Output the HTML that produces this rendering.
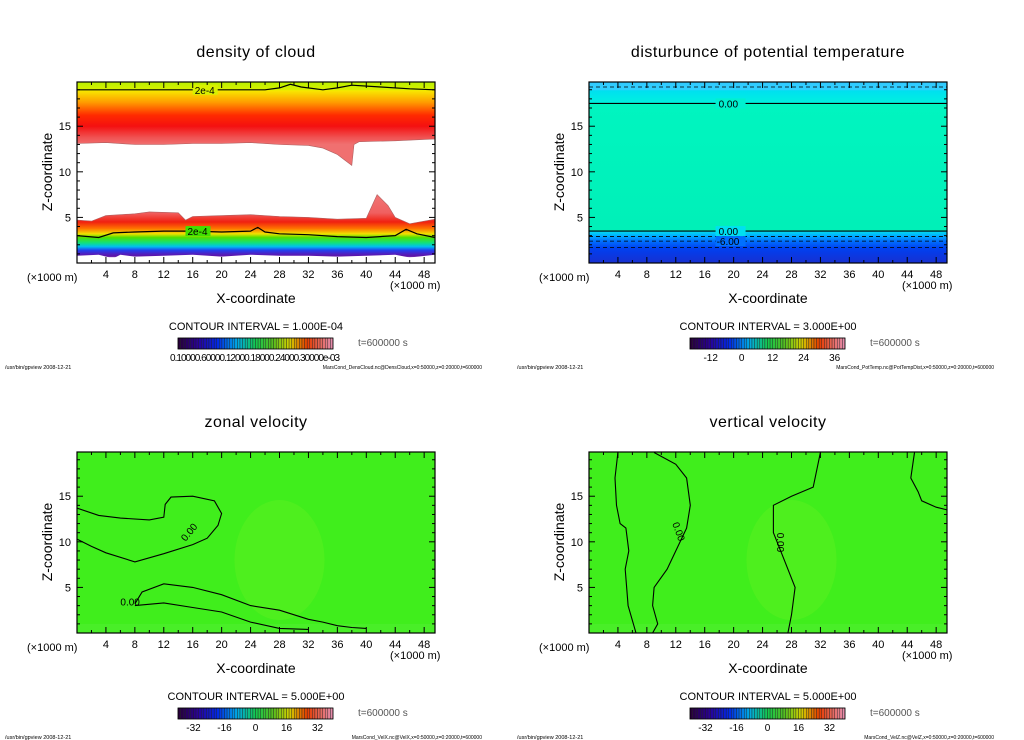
<!DOCTYPE html>
<html><head><meta charset="utf-8"><style>
html,body{margin:0;padding:0;background:#fff;}
svg{display:block;font-family:"Liberation Sans",sans-serif;}
</style></head><body>
<svg id="s" width="1024" height="740" viewBox="0 0 1024 740"></svg>
<script>
const xTicks=[4,8,12,16,20,24,28,32,36,40,44,48];
const zTicks=[5,10,15];
const titles=["density of cloud","disturbunce of potential temperature","zonal velocity","vertical velocity"];
const intervals=["1.000E-04","3.000E+00","5.000E+00","5.000E+00"];
const cbarLabels=[["0.10000.60000.12000.18000.24000.30000e-03"],["-12","0","12","24","36"],["-32","-16","0","16","32"],["-32","-16","0","16","32"]];
const cbarLabelVals=[[0],[-12,0,12,24,36],[-32,-16,0,16,32],[-32,-16,0,16,32]];
const cbarRanges=[[0,1],[-20,40],[-40,40],[-40,40]];
const footR=["MarsCond_DensCloud.nc@DensCloud,x=0:50000,z=0:20000,t=600000","MarsCond_PotTemp.nc@PotTempDist,x=0:50000,z=0:20000,t=600000","MarsCond_VelX.nc@VelX,x=0:50000,z=0:20000,t=600000","MarsCond_VelZ.nc@VelZ,x=0:50000,z=0:20000,t=600000"];
// cloud density boundaries (x, z)
const cloudUpperX=[0,4,8,12,16,20,24,28,32,34,36,37,38,38.3,39,44,49.5];
const cloudUpperZ=[13.1,13.2,13.0,13.0,13.1,13.1,13.2,13.0,12.9,12.6,11.9,11.3,10.7,13.0,13.3,13.4,13.6];
const cloudLowerX=[0,2,4,8,10,14,15,16,20,24,28,32,36,40,41.5,43,44,46,49.5];
const cloudLowerZ=[4.7,4.6,5.2,5.4,5.6,5.5,4.7,5.1,5.2,5.3,5.1,5.0,4.8,4.9,7.5,6.3,5.0,4.3,4.8];
const cloud2e4TopX=[0,10,20,26,28,29.5,31,34,36,38,42,46,49.5];
const cloud2e4TopZ=[19.0,19.0,19.0,19.0,19.2,19.6,19.3,19.0,19.2,19.5,19.3,19.1,19.0];
const cloud2e4LowX=[0,3,5,8,12,16,20,24,25,26,28,32,36,40,44,45.5,47,49.5];
const cloud2e4LowZ=[3.0,2.8,3.3,3.4,3.5,3.5,3.4,3.5,3.9,3.4,3.2,3.1,2.9,2.8,3.0,3.7,3.2,2.8];
const cloudBotX=[0,3,5,6,8,12,16,20,24,28,32,36,40,44,46,49.5];
const cloudBotZ=[0.8,0.9,0.5,0.9,0.7,0.8,0.9,0.7,0.9,0.8,0.8,0.7,0.8,0.9,0.6,0.9];
// zonal velocity contours
const uAX=[0,3,6,10,12,12.2,13,16,19,20,19.5,18,16,12,8,4,2,0];
const uAZ=[13.7,12.9,12.6,12.4,12.7,14.1,14.9,15.0,14.5,13.1,11.8,10.4,9.7,8.7,7.8,8.8,9.5,10.3];
const uBX=[8,9,12,16,20,24,28,32,34,36,38,40];
const uBZ=[3.2,4.5,5.4,5.0,4.2,3.0,2.5,1.5,1.2,0.8,0.6,0.5];
const uCX=[8,12,16,20,24,28,32];
const uCZ=[3.0,3.3,2.8,2.3,1.2,0.5,0.4];
// vertical velocity contours
const wAX=[4,3.6,3.8,4.3,5.1,5.5,5,5.4,6.5];
const wAZ=[19.8,17.0,14.0,12.0,11.5,9.0,7.0,3.0,0];
const wBX=[9,12,13.5,14,13.5,12,10.8,9,8.8,9.5,8.8];
const wBZ=[19.8,18.5,17.0,14.0,11.5,9.0,7.0,5.0,3.0,1.0,0];
const wCX=[32,31,28,25.5,25.5,27,28.5,28,27.5];
const wCZ=[19.8,16.0,15.0,14.0,11.0,8.0,5.0,2.0,0];
const wDX=[45,44.5,45.5,46,48,49.5];
const wDZ=[19.8,17.0,15.5,14.5,13.8,13.5];

const svg=document.getElementById('s');
const NS="http://www.w3.org/2000/svg";
function mk(tag,attrs,parent){const e=document.createElementNS(NS,tag);for(const k in attrs)e.setAttribute(k,attrs[k]);(parent||svg).appendChild(e);return e;}
function txt(str,x,y,size,anchor,parent,extra){const t=mk('text',Object.assign({x:x,y:y,'font-size':size,'text-anchor':anchor||'start',fill:'#000'},extra||{}),parent);t.textContent=str;return t;}
function rainbow(t){const stops=[[0,[40,0,60]],[0.12,[40,0,150]],[0.25,[0,40,230]],[0.38,[0,170,230]],[0.5,[20,200,80]],[0.62,[90,190,30]],[0.72,[210,210,0]],[0.84,[230,60,0]],[1,[230,140,170]]];for(let i=1;i<stops.length;i++){if(t<=stops[i][0]){const a=stops[i-1],b=stops[i];const f=(t-a[0])/(b[0]-a[0]);return 'rgb('+a[1].map((v,j)=>Math.round(v+(b[1][j]-v)*f)).join(',')+')';}}return 'rgb(230,140,170)';}

function panel(i){
  const ox=(i%2)*512, oy=Math.floor(i/2)*370;
  const g=mk('g',{transform:'translate('+ox+','+oy+')'});
  
  
  const L=77,R=435,T=82,B=263;
  const xs=v=>L+(v/49.5)*(R-L), zs=v=>B-(v/19.85)*(B-T);
  const path=(X,Z)=>X.map((x,k)=>(k?'L':'M')+xs(x).toFixed(1)+','+zs(Z[k]).toFixed(1)).join('');
  const defs=mk('defs',{},g);
  if(i===0){
    const lg=mk('linearGradient',{id:'g0',x1:0,y1:T,x2:0,y2:B,gradientUnits:'userSpaceOnUse'},defs);
    const st=[[19.85,'#b8f000'],[19.0,'#d8f000'],[18.9,'#f8e800'],[17.6,'#ff9a00'],[16.2,'#ff2a00'],[15.0,'#f41010'],[13.8,'#f05050'],[13.0,'#f07070'],[11,'#f07070'],[7,'#f07070'],[5.5,'#f06060'],[4.5,'#f02010'],[3.8,'#ff7000'],[3.2,'#f0e000'],[2.8,'#50e000'],[2.2,'#10e080'],[1.8,'#00c0f0'],[1.4,'#2040f0'],[1.0,'#5020c0'],[0.7,'#6010a0'],[0.6,'#fff'],[0,'#fff']];
    st.forEach(s=>mk('stop',{offset:((19.85-s[0])/19.85).toFixed(4),'stop-color':s[1]},lg));
    const f=mk('rect',{x:L,y:T,width:R-L,height:B-T,fill:'url(#g0)'},g);
    
    const w=mk('path',{d:path(cloudUpperX,cloudUpperZ)+path(cloudLowerX.slice().reverse(),cloudLowerZ.slice().reverse()).replace('M','L')+'Z',fill:'#fff',stroke:'#b06060','stroke-width':0.6},g);
    
    mk('path',{d:path(cloudBotX,cloudBotZ)+'L'+xs(49.5)+','+B+'L'+L+','+B+'Z',fill:'#fff'},g);
    [[cloud2e4TopX,cloud2e4TopZ],[cloud2e4LowX,cloud2e4LowZ]].forEach((c,k)=>{const p=mk('path',{d:path(c[0],c[1]),fill:'none',stroke:'#000','stroke-width':1.2},g);});
    mk('rect',{x:xs(16),y:zs(19.0)-5,width:25,height:10,fill:'#d8f000'},g);txt('2e-4',xs(16)+2,zs(19.0)+4,10,'start',g);
    mk('rect',{x:xs(15),y:zs(3.5)-5,width:25,height:10,fill:'#40e000'},g);txt('2e-4',xs(15)+2,zs(3.5)+4,10,'start',g);
  } else if(i===1){
    const lg=mk('linearGradient',{id:'g1',x1:0,y1:T,x2:0,y2:B,gradientUnits:'userSpaceOnUse'},defs);
    const st=[[19.85,'#30c8ff'],[19.0,'#30d0ff'],[18.9,'#00e0f0'],[17.6,'#00f0e0'],[17.5,'#00f5c0'],[3.6,'#00f0b8'],[3.5,'#00e0f0'],[3.0,'#00b0ff'],[2.4,'#0070ff'],[1.6,'#0040f0'],[0,'#1830d0']];
    st.forEach(s=>mk('stop',{offset:((19.85-s[0])/19.85).toFixed(4),'stop-color':s[1]},lg));
    const f=mk('rect',{x:L,y:T,width:R-L,height:B-T,fill:'url(#g1)'},g);
    
    [[17.5,0],[3.5,0]].forEach(c=>mk('line',{x1:L,x2:R,y1:zs(c[0]),y2:zs(c[0]),stroke:'#000','stroke-width':1.2},g));
    [19.3,2.9,2.4,1.7].forEach(z=>mk('line',{x1:L,x2:R,y1:zs(z),y2:zs(z),stroke:'#000','stroke-width':0.8,'stroke-dasharray':'4,3'},g));
    mk('rect',{x:xs(17.5),y:zs(17.5)-5,width:30,height:10,fill:'#00f0d0'},g);txt('0.00',xs(17.5)+3,zs(17.5)+4,10,'start',g);
    mk('rect',{x:xs(17.5),y:zs(3.5)-5,width:30,height:10,fill:'#00e0f0'},g);txt('0.00',xs(17.5)+3,zs(3.5)+4,10,'start',g);
    mk('rect',{x:xs(17.5),y:zs(2.4)-5,width:30,height:10,fill:'#0070ff'},g);txt('-6.00',xs(17.5)+1,zs(2.4)+4,10,'start',g);
  } else {
    const f=mk('rect',{x:L,y:T,width:R-L,height:B-T,fill:'#40ee1c'},g);
    
    mk('ellipse',{cx:xs(28),cy:zs(8),rx:45,ry:60,fill:'#58f020',opacity:0.6},g);
    mk('rect',{x:L,y:zs(1),width:R-L,height:B-zs(1),fill:'#50ee30',opacity:0.6},g);
    const cs=i===2?[[uAX,uAZ],[uBX,uBZ],[uCX,uCZ]]:[[wAX,wAZ],[wBX,wBZ],[wCX,wCZ],[wDX,wDZ]];
    cs.forEach((c,k)=>{const p=mk('path',{d:path(c[0],c[1]),fill:'none',stroke:'#000','stroke-width':1.1},g);});
    if(i===2){txt('0.00',xs(15),zs(10),10,'start',g,{transform:'rotate(-50 '+xs(15)+' '+zs(10)+')'});txt('0.00',xs(6),zs(3),10,'start',g);}
    else{txt('0.00',xs(11.5),zs(12),10,'start',g,{transform:'rotate(70 '+xs(11.5)+' '+zs(12)+')'});txt('0.00',xs(26),zs(11),10,'start',g,{transform:'rotate(90 '+xs(26)+' '+zs(11)+')'});}
  }
  const fr=mk('rect',{x:L,y:T,width:R-L,height:B-T,fill:'none',stroke:'#000','stroke-width':1.2},g);
  
  for(let v=2;v<50;v+=2){const big=v%4===0;[[B,-1],[T,1]].forEach(a=>mk('line',{x1:xs(v),x2:xs(v),y1:a[0],y2:a[0]+a[1]*(big?6:3),stroke:'#000','stroke-width':1},g));}
  for(let v=1;v<20;v++){const big=v%5===0;[[L,1],[R,-1]].forEach(a=>mk('line',{x1:a[0],x2:a[0]+a[1]*(big?6:3),y1:zs(v),y2:zs(v),stroke:'#000','stroke-width':1},g));}
  xTicks.forEach(v=>txt(String(v),xs(v),B+15,11,'middle',g));
  zTicks.forEach(v=>txt(String(v),L-6,zs(v)+4,11,'end',g));
  txt('(\u00d71000 m)',27,B+18,11,'start',g);
  txt('(\u00d71000 m)',390,B+26,11,'start',g);
  txt('X-coordinate',256,B+40,14,'middle',g);
  const zt=txt('Z-coordinate',0,0,14,'middle',g,{transform:'translate(52,172) rotate(-90)'});
  txt(titles[i],256,57,16,'middle',g,{'letter-spacing':'0.5'});
  txt('CONTOUR INTERVAL = '+intervals[i],256,330,11,'middle',g);
  txt('t=600000 s',358,346,10,'start',g,{fill:'#555'});
  const cb=mk('g',{},g);
  const cL=178,cR=333,cT=338,cB=349,n=60;
  for(let k=0;k<n;k++){mk('rect',{x:cL+k*(cR-cL)/n,y:cT,width:(cR-cL)/n,height:cB-cT,fill:rainbow(k/(n-1)),stroke:'#222','stroke-width':0.4},cb);}
  mk('rect',{x:cL,y:cT,width:cR-cL,height:cB-cT,fill:'none',stroke:'#000','stroke-width':0.8},cb);
  if(i===0){txt(cbarLabels[0][0],cL-8,361,10,'start',cb,{textLength:170});}
  else{const r=cbarRanges[i];cbarLabelVals[i].forEach((v,k)=>txt(cbarLabels[i][k],cL+(v-r[0])/(r[1]-r[0])*(cR-cL),361,10,'middle',cb));}
  txt('/usr/bin/gpview   2008-12-21',5,369,5.5,'start',g);
  txt(footR[i],482,369,5,'end',g);
}
for(let i=0;i<4;i++)panel(i);
</script>
</body></html>
